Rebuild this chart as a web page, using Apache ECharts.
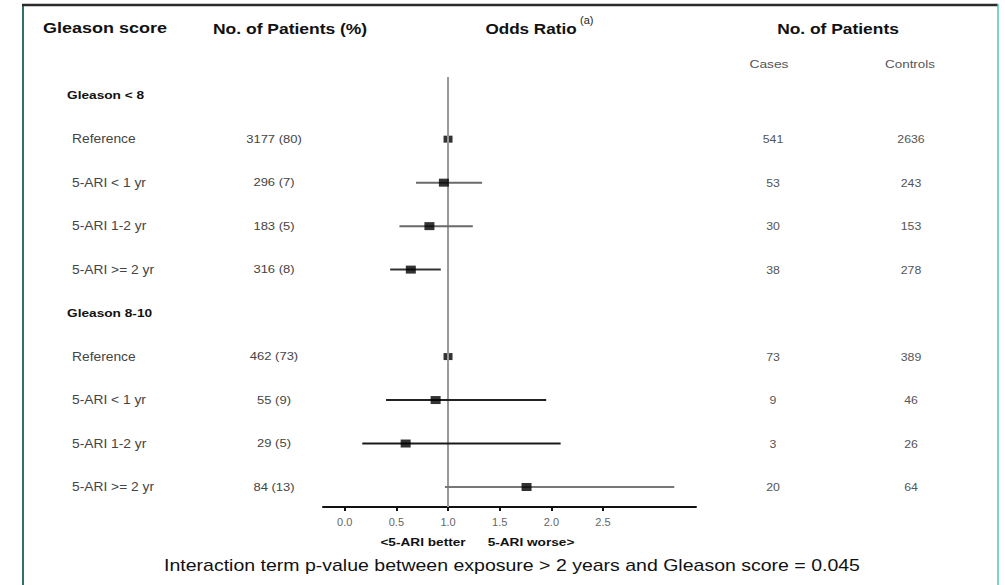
<!DOCTYPE html>
<html>
<head>
<meta charset="utf-8">
<script src="https://cdn.jsdelivr.net/npm/echarts@6/dist/echarts.min.js"></script>
<style>
html,body{margin:0;padding:0;background:#fff;}
#chart{width:1005px;height:585px;}
</style>
</head>
<body>
<div id="chart"></div>
<script>
// ---------------- DATA ----------------
const groups = ['Gleason < 8', 'Gleason 8-10'];
const subgroups = ['Reference', '5-ARI < 1 yr', '5-ARI 1-2 yr', '5-ARI >= 2 yr'];
const patientsN = [[3177, 296, 183, 316], [462, 55, 29, 84]];
const patientsPct = [[80, 7, 5, 8], [73, 9, 5, 13]];
const cases = [[541, 53, 30, 38], [73, 9, 3, 20]];
const controls = [[2636, 243, 153, 278], [389, 46, 26, 64]];
const oddsRatio = [[1.0, 0.96, 0.82, 0.64], [1.0, 0.88, 0.59, 1.76]];
const ciLower = [[null, 0.69, 0.53, 0.44], [null, 0.40, 0.17, 0.97]];
const ciUpper = [[null, 1.33, 1.24, 0.93], [null, 1.95, 2.09, 3.19]];
const xTicks = [0, 0.5, 1, 1.5, 2, 2.5];
const headers = ['Gleason score', 'No. of Patients (%)', 'Odds Ratio', 'No. of Patients'];
const subHeaders = ['Cases', 'Controls'];
const axisNotes = ['<5-ARI better', '5-ARI worse>'];
const footnote = 'Interaction term p-value between exposure > 2 years and Gleason score = 0.045';
const refValue = 1.0;

// ---------------- STYLE ----------------
const FONT = '"Liberation Sans", Arial, Helvetica, sans-serif';
const ciColors = [['#666', '#6a6a6a', '#6a6a6a', '#333'], ['#666', '#222', '#1a1a1a', '#777']];
const SX = 1.15;

// rows: group header at g*5, subgroup i at g*5+1+i
const refPts = [], estPts = [], ciRows = [];
groups.forEach((g, gi) => {
  subgroups.forEach((s, si) => {
    const row = gi * 5 + 1 + si;
    if (si === 0) refPts.push([oddsRatio[gi][si], row]);
    else estPts.push([oddsRatio[gi][si], row]);
    if (ciLower[gi][si] != null) ciRows.push([ciLower[gi][si], ciUpper[gi][si], row, ciColors[gi][si]]);
  });
});
const yMin = -0.43, yMax = 9.46;

const chart = echarts.init(document.getElementById('chart'), null, {renderer: 'svg'});
chart.setOption({
  animation: false,
  backgroundColor: '#fff',
  grid: {left: 323, right: 309, top: 77, bottom: 78},
  xAxis: {
    type: 'value', min: -0.21, max: 3.40,
    splitLine: {show: false},
    axisLine: {show: true, onZero: false, lineStyle: {color: '#111', width: 2}},
    axisTick: {show: true, customValues: xTicks, length: 4, lineStyle: {color: '#111', width: 2}},
    axisLabel: {show: true, customValues: xTicks, color: '#666', fontSize: 11, fontFamily: FONT, margin: 9,
      formatter: v => v.toFixed(1)}
  },
  yAxis: {type: 'value', inverse: true, min: yMin, max: yMax, show: false},
  series: [
    {
      type: 'scatter', z: 2, symbol: 'rect', symbolSize: [9, 7],
      itemStyle: {color: '#000'}, data: refPts, silent: true
    },
    {
      type: 'line', z: 3, symbol: 'none', silent: true,
      lineStyle: {color: '#9a9a9a', width: 2},
      data: [[refValue, yMin], [refValue, yMax]]
    },
    {
      type: 'custom', z: 4, silent: true,
      renderItem: (params, api) => {
        const r = ciRows[params.dataIndex];
        const p1 = api.coord([r[0], r[2]]);
        const p2 = api.coord([r[1], r[2]]);
        return {type: 'line', shape: {x1: p1[0], y1: p1[1], x2: p2[0], y2: p2[1]},
          style: {stroke: r[3], lineWidth: 2}};
      },
      data: ciRows.map(r => [r[0], r[1], r[2]]),
      encode: {x: [0, 1], y: 2}
    },
    {
      type: 'scatter', z: 5, symbol: 'rect', symbolSize: [10, 8],
      itemStyle: {color: '#000'}, data: estPts, silent: true
    }
  ]
});

// ---------------- TEXT ----------------
const yPix = row => chart.convertToPixel({yAxisIndex: 0}, row);
const g = [];
function txt(text, x, y, opt) {
  g.push(Object.assign({
    type: 'text', x: x, y: y, scaleX: SX, silent: true,
    style: Object.assign({text: text, fill: '#222', font: '12px ' + FONT, textAlign: 'left', textVerticalAlign: 'middle'}, opt.style || {})
  }, opt.el || {}));
}
// frame
g.push({type: 'line', shape: {x1: 23, y1: 5, x2: 23, y2: 585}, style: {stroke: '#2e7466', lineWidth: 2}, silent: true});
g.push({type: 'line', shape: {x1: 22, y1: 5, x2: 998, y2: 5}, style: {stroke: '#2b2b2b', lineWidth: 2.5}, silent: true});
g.push({type: 'line', shape: {x1: 998, y1: 4, x2: 998, y2: 585}, style: {stroke: '#4cc8b4', lineWidth: 1.5}, silent: true});

// headers
const hy = 28;
txt(headers[0], 43, hy, {style: {font: 'bold 15px ' + FONT, fill: '#111'}, el: {scaleX: 1.2}});
txt(headers[1], 213, hy, {style: {font: 'bold 15px ' + FONT, fill: '#111'}, el: {scaleX: 1.165}});
txt(headers[2], 531, hy, {style: {font: 'bold 15px ' + FONT, fill: '#111', textAlign: 'center'}, el: {scaleX: 1.14}});
txt('(a)', 580, 20, {style: {font: '10px ' + FONT, fill: '#222'}, el: {scaleX: 1.1}});
txt(headers[3], 838, hy, {style: {font: 'bold 15px ' + FONT, fill: '#111', textAlign: 'center'}, el: {scaleX: 1.16}});
txt(subHeaders[0], 769, 64, {style: {font: '11px ' + FONT, fill: '#555', textAlign: 'center'}, el: {scaleX: 1.25}});
txt(subHeaders[1], 910, 64, {style: {font: '11px ' + FONT, fill: '#555', textAlign: 'center'}, el: {scaleX: 1.22}});

groups.forEach((grp, gi) => {
  txt(grp, 67, yPix(gi * 5), {style: {font: 'bold 11.5px ' + FONT, fill: '#111'}, el: {scaleX: 1.19}});
  subgroups.forEach((s, si) => {
    const y = yPix(gi * 5 + 1 + si);
    txt(s, 72, y, {style: {font: '12px ' + FONT, fill: '#444'}, el: {scaleX: 1.15}});
    txt(patientsN[gi][si] + ' (' + patientsPct[gi][si] + ')', 274, y,
      {style: {font: '11.5px ' + FONT, fill: '#444', textAlign: 'center'}, el: {scaleX: 1.13}});
    txt(String(cases[gi][si]), 773, y, {style: {font: '11px ' + FONT, fill: '#555', textAlign: 'center'}, el: {scaleX: 1.12}});
    txt(String(controls[gi][si]), 911, y, {style: {font: '11px ' + FONT, fill: '#555', textAlign: 'center'}, el: {scaleX: 1.12}});
  });
});

// axis notes
txt(axisNotes[0], 423, 543, {style: {font: 'bold 10.5px ' + FONT, fill: '#111', textAlign: 'center'}, el: {scaleX: 1.3}});
txt(axisNotes[1], 531, 543, {style: {font: 'bold 10.5px ' + FONT, fill: '#111', textAlign: 'center'}, el: {scaleX: 1.3}});
// footnote
txt(footnote, 512, 566, {style: {font: '16px ' + FONT, fill: '#111', textAlign: 'center'}, el: {scaleX: 1.22}});

chart.setOption({graphic: {elements: g}});
</script>
</body>
</html>
